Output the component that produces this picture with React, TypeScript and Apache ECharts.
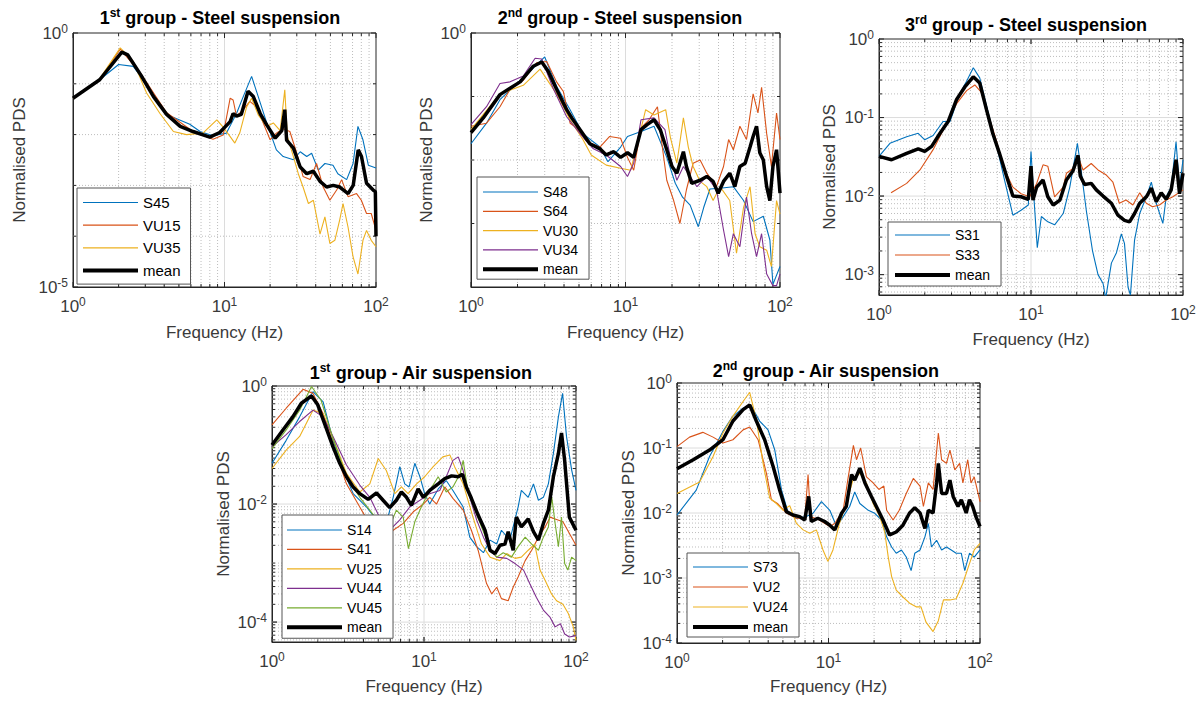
import React, { useEffect, useRef } from "react";
import * as echarts from "echarts";

type Pt = [number, number];

const FONT = '"Liberation Sans", Arial, Helvetica, sans-serif';
const AX = "#262626";
const LBL = "#3a3a3a";
const COLORS = ["#0072BD", "#D95319", "#EDB120", "#7E2F8E", "#77AC30"];
const THIN_ICON = "path://M0,6.4H55V7.6H0Z M0,0H0.01V0.01H0Z M0,13.99H0.01V14H0Z";
const THICK_ICON = "path://M0,5H55V9H0Z M0,0H0.01V0.01H0Z M0,13.99H0.01V14H0Z";

// ---------- axis tick / grid values ----------
const X_LABELS = [1, 10, 100];
const X_MAJOR_GRID = [10];
const X_MINOR_GRID = [2, 3, 4, 5, 6, 7, 8, 9, 20, 30, 40, 50, 60, 70, 80, 90];

const P1_Y_LABELS = [1e-5, 1];
const P1_Y_MAJOR: number[] = [];
const P1_Y_MINOR = [1e-4, 1e-3, 1e-2, 1e-1];

const P2_Y_LABELS = [1];
const P2_Y_MAJOR: number[] = [];
const P2_Y_MINOR = [1e-3, 1e-2, 1e-1];

const P3_Y_LABELS = [1e-3, 1e-2, 1e-1, 1];
const P3_Y_MAJOR = [1e-3, 1e-2, 1e-1];
const P3_Y_MINOR = [6e-4, 7e-4, 8e-4, 9e-4, 2e-3, 3e-3, 4e-3, 5e-3, 6e-3, 7e-3, 8e-3, 9e-3, 2e-2, 3e-2, 4e-2, 5e-2, 6e-2, 7e-2, 8e-2, 9e-2, 2e-1, 3e-1, 4e-1, 5e-1, 6e-1, 7e-1, 8e-1, 9e-1];

const P4_Y_LABELS = [1e-4, 1e-2, 1];
const P4_Y_MAJOR = [1e-4, 1e-2];
const P4_Y_MINOR = [5e-5, 6e-5, 7e-5, 8e-5, 9e-5, 2e-4, 3e-4, 4e-4, 5e-4, 6e-4, 7e-4, 8e-4, 9e-4, 1e-3, 2e-3, 3e-3, 4e-3, 5e-3, 6e-3, 7e-3, 8e-3, 9e-3, 2e-2, 3e-2, 4e-2, 5e-2, 6e-2, 7e-2, 8e-2, 9e-2, 1e-1, 2e-1, 3e-1, 4e-1, 5e-1, 6e-1, 7e-1, 8e-1, 9e-1];

const P5_Y_LABELS = [1e-4, 1e-3, 1e-2, 1e-1, 1];
const P5_Y_MAJOR = [1e-3, 1e-2, 1e-1];
const P5_Y_MINOR = [2e-4, 3e-4, 4e-4, 5e-4, 6e-4, 7e-4, 8e-4, 9e-4, 2e-3, 3e-3, 4e-3, 5e-3, 6e-3, 7e-3, 8e-3, 9e-3, 2e-2, 3e-2, 4e-2, 5e-2, 6e-2, 7e-2, 8e-2, 9e-2, 2e-1, 3e-1, 4e-1, 5e-1, 6e-1, 7e-1, 8e-1, 9e-1];

// ---------- 1st group - Steel suspension ----------
const P1_NAMES = ["S45", "VU15", "VU35"];
const P1_S45: Pt[] = [[1, 5.2e-2], [1.5, 1.2e-1], [2.0, 2.4e-1], [2.5, 2.2e-1], [2.9, 1.2e-1], [3.4, 5.8e-2], [4.15, 2.5e-2], [5.9, 1.6e-2], [6.9, 1.15e-2], [8.4, 9.5e-3], [10.3, 1.07e-2], [12.0, 2.6e-2], [13.3, 5.6e-2], [15.1, 1.4e-1], [16.7, 5.6e-2], [19, 1.7e-2], [22, 5.0e-3], [24.4, 3.7e-3], [28.5, 3.2e-3], [31.6, 4.6e-3], [34.9, 3.7e-3], [37.6, 4.3e-3], [41.6, 2.0e-3], [46, 2.7e-3], [52, 2.5e-3], [56, 1.7e-3], [64, 1.3e-3], [70.6, 2.7e-3], [76, 1.45e-2], [82, 7.9e-3], [89, 2.5e-3], [100, 2.2e-3]];
const P1_VU15: Pt[] = [[1, 5.2e-2], [1.5, 1.2e-1], [2.05, 4.8e-1], [2.8, 1.6e-1], [4.15, 2.7e-2], [6.2, 1.15e-2], [8.4, 8.1e-3], [9.8, 9.8e-3], [10.9, 5.2e-2], [11.4, 4.8e-2], [12.0, 2.3e-2], [13.3, 3.1e-2], [14.7, 4.5e-2], [16.3, 3.5e-2], [18.0, 1.7e-2], [20, 7.9e-3], [22, 1.07e-2], [24.4, 1.3e-2], [27, 1.15e-2], [30, 4.3e-3], [33, 1.5e-3], [36.7, 1.3e-3], [40.5, 2.7e-3], [44.8, 9.3e-4], [49.6, 5.1e-4], [55, 8.1e-4], [59.3, 1.3e-3], [65.4, 6.0e-4], [74.4, 6.9e-4], [80, 5.1e-4], [86.6, 2.8e-4], [93, 2.8e-4], [100, 1.3e-4]];
const P1_VU35: Pt[] = [[1, 5.2e-2], [1.5, 1.25e-1], [2.05, 5.1e-1], [2.5, 2.75e-1], [3.06, 6.6e-2], [3.75, 2.6e-2], [4.6, 1.15e-2], [5.6, 1.0e-2], [7.2, 1.07e-2], [8.9, 1.95e-2], [9.8, 1.4e-2], [10.9, 9.1e-3], [11.7, 6.8e-3], [12.6, 1.07e-2], [14, 3.5e-2], [15.1, 5.2e-2], [16.7, 2.45e-2], [19, 1.45e-2], [21, 1.7e-2], [23.3, 1.2e-2], [25, 7.6e-2], [26, 9.1e-3], [28.5, 3.7e-3], [30.7, 1.7e-3], [33, 9.3e-4], [35.8, 4.4e-4], [38.6, 5.1e-4], [42.7, 1.1e-4], [46, 2.4e-4], [49.6, 7.2e-5], [53.5, 8.3e-5], [57.6, 2.1e-4], [60.6, 4.4e-4], [65.4, 1.5e-4], [70.6, 3.9e-5], [76, 1.8e-5], [82, 8.3e-5], [86.6, 1.3e-4], [93, 8.3e-5], [100, 6.2e-5]];
const P1_MEAN: Pt[] = [[1, 5.2e-2], [1.5, 1.2e-1], [2.1, 4.2e-1], [2.3, 3.7e-1], [2.8, 1.5e-1], [3.4, 5.6e-2], [4.15, 2.5e-2], [5.1, 1.45e-2], [6.2, 1.15e-2], [8.0, 8.9e-3], [9.3, 1.1e-2], [10.9, 1.8e-2], [11.4, 2.6e-2], [12.0, 2.3e-2], [12.9, 2.5e-2], [14.3, 7.1e-2], [15.5, 5.6e-2], [17.2, 2.6e-2], [19.0, 1.55e-2], [21.6, 8.5e-3], [23.9, 1.2e-2], [25.0, 3.1e-2], [25.7, 7.8e-3], [28.5, 5.4e-3], [31.6, 2.3e-3], [34.9, 1.7e-3], [38.6, 1.9e-3], [42.7, 1.2e-3], [47.2, 9.3e-4], [52.2, 1.0e-3], [57.6, 9.3e-4], [65.4, 6.9e-4], [70.7, 1.0e-3], [76.3, 5.0e-3], [80.2, 3.7e-3], [86.6, 1.1e-3], [95.8, 8.1e-4], [99, 7.5e-4], [100, 1.0e-4]];

// ---------- 2nd group - Steel suspension ----------
const P2_NAMES = ["S48", "S64", "VU30", "VU34"];
const P2_S48: Pt[] = [[1, 1.8e-2], [1.26, 3.8e-2], [1.54, 8.9e-2], [2.08, 1.8e-1], [2.53, 2.8e-1], [3.0, 4.2e-1], [3.58, 1.45e-1], [4.38, 6.2e-2], [5.3, 2.6e-2], [6.83, 1.6e-2], [7.7, 9.4e-3], [9.3, 1.6e-2], [10.3, 2.35e-2], [12.6, 2.8e-2], [15.3, 3.4e-2], [18.5, 1.1e-2], [21, 4.3e-3], [23.4, 2.6e-3], [26.2, 1.95e-3], [29.6, 8.9e-4], [32.1, 1.8e-3], [35.2, 3.5e-3], [40.9, 3.6e-3], [49.9, 3.8e-3], [58.1, 2.3e-3], [67, 1.07e-3], [78, 1.3e-3], [86, 5.5e-4], [90, 1.1e-4], [100, 2.1e-4]];
const P2_S64: Pt[] = [[1, 3.4e-2], [1.26, 3.8e-2], [1.54, 6.9e-2], [1.79, 1.3e-1], [2.18, 1.8e-1], [2.66, 3.4e-1], [3.09, 3.55e-1], [3.58, 1.7e-1], [3.96, 1.2e-1], [4.38, 3.8e-2], [4.83, 3.2e-2], [5.6, 1.95e-2], [6.83, 1.6e-2], [7.9, 2.35e-2], [9.3, 2.2e-2], [10.3, 1.1e-2], [11.3, 6.9e-3], [12.6, 3.2e-2], [14.2, 4.3e-2], [16.1, 6.9e-2], [17.2, 1.8e-2], [18.5, 4.8e-3], [20.5, 2.3e-3], [22.5, 1.0e-3], [24.8, 3.4e-3], [27.4, 8.9e-3], [30.4, 1.0e-2], [33.6, 6.2e-3], [38.8, 3.8e-3], [43.1, 7.9e-3], [46.5, 2.1e-2], [49.9, 1.45e-2], [55, 3.4e-2], [60.7, 2.1e-2], [67, 1.1e-1], [72, 5.5e-2], [76, 1.4e-1], [82, 2.6e-2], [88, 7.9e-3], [95, 5.5e-2], [100, 2.1e-2]];
const P2_VU30: Pt[] = [[1, 3.0e-2], [1.54, 1.1e-1], [2.18, 1.5e-1], [2.8, 2.7e-1], [3.58, 1.1e-1], [4.38, 4.3e-2], [5.3, 2.1e-2], [6.0, 1.2e-2], [7.5, 8.3e-3], [9.3, 7.4e-3], [10.8, 6.9e-3], [11.8, 1.6e-2], [13.5, 6.2e-2], [15.3, 5.1e-2], [18.2, 6.2e-2], [19.5, 2.3e-2], [21.5, 8.9e-3], [23.7, 4.6e-2], [25.5, 1.6e-2], [27.4, 7.9e-3], [30.4, 4.6e-3], [33.6, 3.8e-3], [36.9, 2.3e-3], [40.9, 3.8e-3], [47.3, 2.3e-3], [52.3, 3.4e-4], [58.1, 1.8e-3], [64, 3.8e-3], [69, 6.9e-4], [74, 4.3e-4], [82, 3.8e-4], [88, 2.1e-4], [95, 2.3e-3], [100, 1.4e-3]];
const P2_VU34: Pt[] = [[1, 3.6e-2], [1.26, 6.9e-2], [1.54, 1.6e-1], [1.79, 1.7e-1], [2.18, 2.1e-1], [2.6, 4.0e-1], [2.87, 3.9e-1], [3.4, 1.35e-1], [4.16, 4.8e-2], [5.08, 2.6e-2], [6.2, 1.5e-2], [7.5, 1.2e-2], [9.3, 7.9e-3], [10.3, 5.5e-3], [11.3, 8.9e-3], [12.6, 4.3e-2], [15.3, 4.6e-2], [18, 3.0e-2], [19.5, 1.1e-2], [21.5, 4.8e-3], [23.7, 7.9e-3], [26.2, 5.5e-3], [29, 3.8e-3], [33.6, 5.5e-3], [38.8, 3.4e-3], [43.1, 7.9e-4], [46.5, 3.0e-4], [49.9, 6.9e-4], [55, 4.3e-4], [60.7, 2.6e-3], [65.5, 6.9e-4], [70.5, 3.0e-4], [76, 6.9e-4], [82, 1.6e-4], [90, 1.05e-4], [95, 1.05e-4], [100, 1.6e-4]];
const P2_MEAN: Pt[] = [[1, 2.7e-2], [1.2, 4.6e-2], [1.54, 1.07e-1], [1.79, 1.35e-1], [2.08, 1.7e-1], [2.53, 3.0e-1], [2.87, 3.5e-1], [3.16, 2.5e-1], [3.58, 1.3e-1], [4.16, 6.2e-2], [4.49, 4.6e-2], [5.08, 3.0e-2], [5.88, 1.8e-2], [6.83, 1.5e-2], [7.5, 1.2e-2], [8.4, 1.35e-2], [9.3, 1.1e-2], [10.3, 1.3e-2], [11.3, 1.1e-2], [12.6, 3.0e-2], [13.8, 3.6e-2], [15.3, 4.3e-2], [16.8, 3.0e-2], [18.5, 1.45e-2], [20, 7.9e-3], [21.5, 6.2e-3], [23.7, 1.35e-2], [24.8, 7.9e-3], [26.8, 4.3e-3], [30.4, 4.8e-3], [33.6, 5.5e-3], [36.9, 4.6e-3], [39.8, 3.0e-3], [43.1, 4.6e-3], [47.3, 6.2e-3], [51, 3.8e-3], [55, 7.9e-3], [59.5, 8.9e-3], [64, 1.6e-2], [67, 2.35e-2], [70.5, 3.4e-2], [74, 1.3e-2], [78, 1.0e-2], [82, 3.8e-3], [86, 2.3e-3], [90, 7.9e-3], [95, 1.45e-2], [100, 3.0e-3]];

// ---------- 3rd group - Steel suspension ----------
const P3_NAMES = ["S31", "S33"];
const P3_S31: Pt[] = [[1, 3.2e-2], [1.18, 4.7e-2], [1.52, 5.7e-2], [1.81, 6.3e-2], [2.0, 5.2e-2], [2.27, 5.9e-2], [2.64, 8.9e-2], [2.93, 8.9e-2], [3.41, 2.05e-1], [3.77, 2.9e-1], [4.17, 4.3e-1], [4.6, 3.2e-1], [5.1, 1.4e-1], [5.9, 4.7e-2], [6.7, 1.6e-2], [7.6, 5.7e-3], [8.6, 6.6e-3], [9.6, 7.7e-3], [10, 3.7e-2], [10.3, 1.45e-2], [11.0, 2.2e-3], [11.7, 5.5e-3], [12.9, 4.7e-3], [14.3, 4.3e-3], [16.3, 6.0e-3], [18.0, 1.3e-2], [20.2, 4.7e-2], [21.5, 1.95e-2], [23.1, 6.6e-3], [25.4, 2.0e-3], [27.6, 1.0e-3], [29.8, 7.7e-4], [31, 5.0e-4], [33.8, 1.4e-3], [36.5, 1.9e-3], [39.3, 3.3e-3], [41.2, 2.5e-3], [43.5, 6.9e-4], [45.1, 5.5e-4], [48, 2.75e-3], [51.9, 6.0e-3], [57.4, 9.8e-3], [61.9, 1.5e-2], [66.7, 8.1e-3], [73.7, 4.5e-3], [77.6, 9.8e-3], [83.6, 1.3e-2], [90, 4.9e-2], [94.9, 1.3e-2], [100, 2.9e-2]];
const P3_S33: Pt[] = [[1.2, 1.1e-2], [1.52, 1.45e-2], [1.86, 2.15e-2], [2.27, 3.9e-2], [2.64, 6.9e-2], [3.24, 1.5e-1], [3.77, 2.2e-1], [4.27, 2.6e-1], [4.7, 2.1e-1], [5.2, 1.14e-1], [5.9, 5.2e-2], [6.7, 2.15e-2], [7.6, 1.3e-2], [8.6, 1.07e-2], [9.8, 9.8e-3], [10.9, 1.45e-2], [12.0, 2.5e-2], [12.9, 2.4e-2], [14.3, 9.8e-3], [16.3, 1.3e-2], [17.1, 1.95e-2], [18.9, 2.25e-2], [20.4, 3.2e-2], [22, 2.15e-2], [24.9, 2.6e-2], [27.6, 2.15e-2], [31.3, 1.85e-2], [34.6, 1.5e-2], [38.1, 8.1e-3], [42.2, 8.9e-3], [46.8, 7.7e-3], [51.9, 1.1e-2], [57.4, 8.1e-3], [63, 7.3e-3], [70, 7.7e-3], [77.6, 8.9e-3], [85.8, 9.8e-3], [100, 1.2e-2]];
const P3_MEAN: Pt[] = [[1, 3.2e-2], [1.21, 2.9e-2], [1.52, 3.5e-2], [1.81, 4.0e-2], [2.0, 3.7e-2], [2.22, 4.3e-2], [2.52, 6.3e-2], [2.85, 8.9e-2], [3.24, 1.7e-1], [3.67, 2.45e-1], [4.17, 3.3e-1], [4.6, 2.75e-1], [5.1, 1.25e-1], [5.6, 6.3e-2], [6.2, 3.5e-2], [6.9, 1.8e-2], [7.6, 1.0e-2], [8.6, 9.8e-3], [9.6, 9.1e-3], [10, 2.4e-2], [10.3, 8.9e-3], [10.9, 1.3e-2], [12.0, 1.6e-2], [12.9, 9.8e-3], [14.0, 7.7e-3], [15.5, 8.9e-3], [17.1, 1.6e-2], [18.9, 2.1e-2], [20.4, 3.3e-2], [21.1, 1.8e-2], [22.5, 1.4e-2], [24.9, 1.45e-2], [26.9, 1.2e-2], [29.8, 1.0e-2], [33.8, 8.1e-3], [37.3, 5.7e-3], [41.2, 4.9e-3], [44.5, 4.7e-3], [48.0, 6.0e-3], [51.9, 8.1e-3], [57.4, 9.8e-3], [61.9, 1.26e-2], [66.7, 8.5e-3], [71.9, 1.1e-2], [77.6, 9.1e-3], [83.6, 1.2e-2], [90, 2.9e-2], [94.9, 1.07e-2], [100, 1.95e-2]];

// ---------- 1st group - Air suspension ----------
const P4_NAMES = ["S14", "S41", "VU25", "VU44", "VU45"];
const P4_S14: Pt[] = [[1, 4.9e-2], [1.24, 1.2e-1], [1.52, 3.0e-1], [1.86, 8.0e-1], [2.17, 5.4e-1], [2.52, 1.2e-1], [2.93, 3.8e-2], [3.42, 1.5e-2], [4.19, 8.9e-3], [4.87, 5.4e-3], [5.65, 4.7e-3], [6.27, 1.3e-2], [6.93, 4.3e-2], [7.47, 2.2e-2], [7.98, 1.95e-2], [8.7, 4.9e-2], [9.4, 2.9e-2], [10.1, 1.5e-2], [10.9, 1.0e-2], [12.4, 1.8e-2], [14, 2.5e-2], [15.5, 1.7e-2], [18.1, 8.9e-3], [20, 2.75e-3], [22.2, 1.9e-3], [24.6, 1.5e-3], [27.2, 2.45e-3], [30.1, 2.1e-3], [32.3, 3.6e-3], [36.7, 2.45e-3], [41.6, 8.9e-3], [43.7, 1.7e-2], [48.5, 1.3e-2], [52.5, 2.2e-2], [56.6, 1.16e-2], [61, 1.3e-2], [65.8, 2.2e-2], [71, 7.2e-2], [76.6, 3.0e-1], [81.6, 7.5e-1], [86.6, 1.4e-1], [93.6, 3.8e-2], [100, 1.7e-2]];
const P4_S41: Pt[] = [[1, 2.2e-1], [1.24, 4.2e-1], [1.6, 8.8e-1], [1.86, 7.5e-1], [2.17, 3.4e-1], [2.52, 1.06e-1], [3.09, 2.2e-2], [3.78, 8.9e-3], [4.63, 3.6e-3], [5.38, 2.1e-3], [6.27, 3.6e-3], [7.3, 4.7e-3], [8.5, 7.4e-3], [9.9, 1.0e-2], [10.9, 1.3e-2], [12.1, 1.0e-2], [13.7, 1.95e-2], [15.5, 1.25e-2], [18.1, 7.9e-3], [20.5, 3.6e-3], [22.7, 1.65e-3], [25.8, 4.5e-4], [27.9, 3.0e-4], [30.1, 3.9e-4], [32.3, 2.5e-4], [35.8, 2.3e-4], [38.6, 3.9e-4], [41.6, 5.8e-4], [46.3, 1.1e-3], [51.1, 1.65e-3], [56.6, 2.75e-3], [62.6, 4.1e-3], [67.6, 6.0e-3], [72.9, 5.6e-3], [82, 5.0e-3], [100, 2.0e-3]];
const P4_VU25: Pt[] = [[1, 4.0e-2], [1.24, 8.2e-2], [1.52, 1.4e-1], [1.86, 3.9e-1], [2.17, 3.4e-1], [2.52, 1.3e-1], [3.09, 3.3e-2], [3.78, 1.6e-2], [4.4, 2.2e-2], [5.0, 5.9e-2], [5.65, 3.7e-2], [6.43, 1.5e-2], [7.1, 1.95e-2], [7.86, 1.5e-2], [8.94, 2.2e-2], [10.1, 2.9e-2], [11.5, 4.3e-2], [13.3, 6.3e-2], [14.8, 6.8e-2], [15.9, 4.3e-2], [18.1, 2.2e-2], [21, 6.0e-3], [23.9, 2.1e-3], [27.2, 1.26e-3], [31.6, 1.1e-3], [35, 1.45e-3], [39.7, 1.2e-3], [43.7, 1.26e-3], [48.5, 1.65e-3], [53.5, 2.1e-3], [58, 7.6e-4], [62.6, 5.1e-4], [69, 3.0e-4], [74.5, 2.3e-4], [82, 2.0e-4], [89, 1.4e-4], [96, 8.3e-5], [100, 4.9e-5]];
const P4_VU44: Pt[] = [[1, 9.3e-2], [1.24, 1.5e-1], [1.52, 2.5e-1], [1.86, 3.9e-1], [2.17, 3.0e-1], [2.52, 1.4e-1], [3.09, 4.6e-2], [3.78, 2.1e-2], [4.4, 1.3e-2], [5.1, 6.0e-3], [5.95, 3.6e-3], [6.93, 5.4e-3], [8.06, 8.9e-3], [9.4, 1.16e-2], [10.9, 1.5e-2], [12.7, 1.7e-2], [14.3, 3.3e-2], [15.5, 5.5e-2], [16.8, 6.3e-2], [18.1, 3.7e-2], [20, 1.3e-2], [22.2, 5.4e-3], [24.6, 2.75e-3], [27.2, 1.65e-3], [30.1, 1.26e-3], [35, 1.2e-3], [39.7, 9.8e-4], [45.2, 7.6e-4], [49.6, 4.5e-4], [54.9, 2.6e-4], [61, 1.6e-4], [67.6, 1.2e-4], [72.9, 8.3e-5], [79, 9.4e-5], [84.2, 6.3e-5], [90.4, 5.6e-5], [100, 5.9e-5]];
const P4_VU45: Pt[] = [[1, 8.7e-2], [1.24, 1.8e-1], [1.52, 3.9e-1], [1.82, 9.8e-1], [2.1, 5.8e-1], [2.52, 1.3e-1], [3.09, 2.9e-2], [3.78, 1.3e-2], [4.4, 7.9e-3], [5.1, 4.7e-3], [5.8, 3.6e-3], [6.58, 7.9e-3], [7.3, 6.0e-3], [7.9, 1.75e-3], [8.7, 5.0e-3], [9.6, 8.9e-3], [10.9, 1.7e-2], [12.4, 2.9e-2], [14, 1.6e-2], [15.5, 1.95e-2], [17.3, 3.3e-2], [18.1, 5.5e-2], [19.4, 1.7e-2], [21.6, 7.9e-3], [23.9, 4.1e-3], [27.2, 1.75e-3], [30.1, 1.26e-3], [33.2, 1.5e-3], [37.6, 1.26e-3], [41.6, 1.9e-3], [46.3, 2.75e-3], [51.1, 2.1e-3], [56.6, 1.65e-3], [61, 2.75e-3], [65.8, 4.1e-3], [69.3, 1.3e-2], [72.9, 4.7e-3], [76.6, 1.9e-3], [80.3, 6.0e-3], [84.2, 9.8e-4], [88.4, 7.6e-4], [93.6, 1.26e-3], [100, 1.1e-3]];
const P4_MEAN: Pt[] = [[1, 1.0e-1], [1.18, 1.8e-1], [1.37, 3.0e-1], [1.56, 5.1e-1], [1.82, 6.8e-1], [2.0, 4.8e-1], [2.28, 1.9e-1], [2.52, 9.3e-2], [2.79, 4.9e-2], [3.09, 2.9e-2], [3.42, 1.95e-2], [3.78, 1.5e-2], [4.29, 1.2e-2], [4.87, 1.55e-2], [5.38, 1.16e-2], [5.95, 8.7e-3], [6.58, 1.16e-2], [7.1, 1.6e-2], [7.67, 1.3e-2], [8.26, 9.5e-3], [9.15, 1.8e-2], [9.9, 1.3e-2], [10.9, 1.7e-2], [12.4, 2.2e-2], [13.7, 2.7e-2], [15.2, 3.0e-2], [16.8, 2.9e-2], [17.9, 3.2e-2], [19.0, 1.95e-2], [20.5, 1.25e-2], [22.7, 6.5e-3], [25.2, 3.6e-3], [27.2, 1.65e-3], [29.3, 1.45e-3], [31.6, 2.0e-3], [34.1, 2.1e-3], [35.8, 3.4e-3], [38.6, 1.65e-3], [40.5, 6.0e-3], [43.7, 4.1e-3], [48.5, 5.6e-3], [52.5, 3.4e-3], [56.6, 2.45e-3], [61.0, 4.7e-3], [65.8, 7.9e-3], [71, 2.9e-2], [76.6, 7.2e-2], [80.3, 1.6e-1], [84.2, 5.5e-2], [90.4, 6.0e-3], [100, 3.6e-3]];

// ---------- 2nd group - Air suspension ----------
const P5_NAMES = ["S73", "VU2", "VU24"];
const P5_S73: Pt[] = [[1, 9.3e-3], [1.34, 2.25e-2], [1.64, 7.4e-2], [2.01, 1.8e-1], [2.34, 3.1e-1], [2.73, 4.1e-1], [3.1, 4.4e-1], [3.51, 2.6e-1], [3.99, 1.9e-1], [4.42, 9.3e-2], [4.9, 2.25e-2], [5.42, 1.0e-2], [6.14, 8.3e-3], [7.14, 8.8e-3], [7.9, 9.9e-3], [8.98, 1.5e-2], [10.2, 1.1e-2], [11.3, 6.2e-3], [12.5, 8.8e-3], [13.8, 1.26e-2], [14.9, 2.1e-2], [16.1, 1.4e-2], [18.3, 1.1e-2], [20.2, 9.9e-3], [22.4, 7.8e-3], [24.2, 4.3e-3], [26.1, 3.0e-3], [28.0, 2.4e-3], [30.3, 2.7e-3], [32.6, 2.1e-3], [35.1, 1.3e-3], [37.1, 2.4e-3], [40.2, 2.7e-3], [43.3, 4.3e-3], [45.6, 6.9e-3], [47.8, 3.0e-3], [51.7, 3.8e-3], [55.8, 2.7e-3], [60.1, 3.0e-3], [64.6, 2.7e-3], [69.6, 2.4e-3], [75.3, 2.4e-3], [79.3, 1.3e-3], [85.2, 2.4e-3], [91.6, 2.1e-3], [100, 2.7e-3]];
const P5_VU2: Pt[] = [[1, 1.05e-1], [1.21, 1.47e-1], [1.48, 1.74e-1], [1.73, 1.47e-1], [2.01, 1.19e-1], [2.34, 1.34e-1], [2.73, 1.9e-1], [3.02, 2.1e-1], [3.43, 1.34e-1], [3.89, 4.1e-2], [4.2, 1.6e-2], [4.6, 1.4e-2], [5.27, 1.0e-2], [6.14, 8.3e-3], [6.97, 8.3e-3], [7.33, 3.9e-2], [7.6, 8.8e-3], [8.7, 7.8e-3], [10.2, 6.2e-3], [11.0, 6.9e-3], [12.5, 1.1e-2], [13.4, 3.2e-2], [14.6, 1.1e-1], [15.3, 6.6e-2], [16.3, 1.0e-1], [17.8, 3.6e-2], [19.7, 2.9e-2], [21.5, 2.3e-2], [23.2, 2.6e-2], [24.2, 1.1e-2], [26.7, 7.8e-3], [29.3, 1.1e-2], [32.6, 2.0e-2], [36.3, 3.4e-2], [40.2, 2.6e-2], [42.3, 1.26e-2], [45.6, 2.9e-2], [49.0, 2.3e-2], [53.1, 1.7e-1], [55.8, 6.6e-2], [60.1, 5.8e-2], [63.3, 9.3e-2], [68.2, 4.6e-2], [73.4, 5.8e-2], [77.1, 2.9e-2], [83.0, 6.6e-2], [87.2, 2.9e-2], [91.6, 3.6e-2], [100, 1.5e-2]];
const P5_VU24: Pt[] = [[1, 2.0e-2], [1.41, 3.0e-2], [1.73, 7.4e-2], [2.01, 1.7e-1], [2.34, 3.1e-1], [2.73, 5.2e-1], [3.02, 7.2e-1], [3.34, 2.7e-1], [3.7, 5.8e-2], [4.09, 1.7e-2], [4.53, 1.4e-2], [5.02, 1.1e-2], [5.55, 1.3e-2], [6.14, 6.9e-3], [6.8, 5.5e-3], [7.52, 4.9e-3], [8.32, 5.5e-3], [9.2, 2.7e-3], [9.9, 1.8e-3], [10.7, 2.7e-3], [11.8, 6.9e-3], [13.1, 1.4e-2], [14.5, 3.2e-2], [16.1, 4.1e-2], [17.8, 2.9e-2], [19.7, 1.4e-2], [21.8, 8.8e-3], [23.5, 5.1e-3], [24.8, 2.1e-3], [26.1, 1.05e-3], [28.0, 6.5e-4], [31.0, 5.1e-4], [34.3, 4.1e-4], [37.9, 3.6e-4], [40.8, 3.6e-4], [44.0, 2.1e-4], [49.0, 1.5e-4], [53.1, 2.2e-4], [57.4, 4.6e-4], [63.3, 4.6e-4], [69.6, 4.8e-4], [77.1, 8.3e-4], [85.2, 1.66e-3], [91.6, 2.7e-3], [100, 3.4e-3]];
const P5_MEAN: Pt[] = [[1, 4.8e-2], [1.28, 6.6e-2], [1.64, 9.3e-2], [2.01, 1.34e-1], [2.34, 2.6e-1], [2.73, 3.9e-1], [3.02, 4.6e-1], [3.34, 2.6e-1], [3.79, 1.34e-1], [4.31, 5.2e-2], [4.76, 2.26e-2], [5.27, 1.05e-2], [5.83, 9.3e-3], [6.45, 8.8e-3], [6.97, 7.8e-3], [7.4, 1.8e-2], [7.7, 7.4e-3], [8.5, 8.3e-3], [9.43, 7.4e-3], [10.2, 6.5e-3], [11.0, 5.5e-3], [12.2, 9.9e-3], [13.1, 1.26e-2], [14.2, 3.9e-2], [14.9, 3.2e-2], [16.1, 4.9e-2], [17.4, 2.9e-2], [19.2, 1.8e-2], [20.7, 1.26e-2], [22.9, 7.8e-3], [25.3, 4.6e-3], [28.0, 5.1e-3], [31.0, 6.5e-3], [34.3, 1.0e-2], [37.1, 1.2e-2], [40.2, 1.0e-2], [43.3, 5.8e-3], [45.6, 1.1e-2], [49.0, 1.0e-2], [51.7, 2.9e-2], [53.1, 5.8e-2], [55.8, 2.0e-2], [60.1, 2.0e-2], [63.3, 3.2e-2], [66.5, 1.8e-2], [71.6, 1.26e-2], [75.3, 1.6e-2], [81.1, 1.0e-2], [85.2, 1.6e-2], [89.5, 1.26e-2], [94, 8.8e-3], [100, 6.2e-3]];

// ---------- panel layout / style ----------
type Panel = {
  title: string; tx: number; ty: number;
  rect: [number, number, number, number];
  yMin: number; yLabels: number[]; yMajor: number[]; yMinor: number[];
  names: string[]; data: Pt[][]; mean: Pt[];
  xGap: number; yGap: number;
  lg: { left: number; top: number; gap: number; pad: number[]; font: number };
};

const PANELS: Panel[] = [
  { title: "1{sup|st} group - Steel suspension", tx: 220, ty: 18, rect: [73, 33, 303, 254], yMin: 1e-5, yLabels: P1_Y_LABELS, yMajor: P1_Y_MAJOR, yMinor: P1_Y_MINOR, names: P1_NAMES, data: [P1_S45, P1_VU15, P1_VU35], mean: P1_MEAN, xGap: 37, yGap: 45, lg: { left: 77, top: 188, gap: 7.7, pad: [7, 10, 6, 6], font: 15 } },
  { title: "2{sup|nd} group - Steel suspension", tx: 620, ty: 18, rect: [471, 33, 309, 254], yMin: 1e-4, yLabels: P2_Y_LABELS, yMajor: P2_Y_MAJOR, yMinor: P2_Y_MINOR, names: P2_NAMES, data: [P2_S48, P2_S64, P2_VU30, P2_VU34], mean: P2_MEAN, xGap: 37, yGap: 36, lg: { left: 477, top: 177, gap: 5.3, pad: [8, 11, 3, 6], font: 14 } },
  { title: "3{sup|rd} group - Steel suspension", tx: 1026, ty: 25, rect: [879, 39, 304, 256], yMin: 5.5e-4, yLabels: P3_Y_LABELS, yMajor: P3_Y_MAJOR, yMinor: P3_Y_MINOR, names: P3_NAMES, data: [P3_S31, P3_S33], mean: P3_MEAN, xGap: 36, yGap: 41, lg: { left: 888, top: 222, gap: 6, pad: [6, 11, 4, 7], font: 14 } },
  { title: "1{sup|st} group - Air suspension", tx: 421, ty: 373, rect: [272, 386, 304, 256], yMin: 4.6e-5, yLabels: P4_Y_LABELS, yMajor: P4_Y_MAJOR, yMinor: P4_Y_MINOR, names: P4_NAMES, data: [P4_S14, P4_S41, P4_VU25, P4_VU44, P4_VU45], mean: P4_MEAN, xGap: 36, yGap: 40, lg: { left: 282, top: 515, gap: 5.45, pad: [8, 11, 4, 5], font: 14 } },
  { title: "2{sup|nd} group - Air suspension", tx: 826, ty: 371, rect: [677, 383, 303, 260], yMin: 1e-4, yLabels: P5_Y_LABELS, yMajor: P5_Y_MAJOR, yMinor: P5_Y_MINOR, names: P5_NAMES, data: [P5_S73, P5_VU2, P5_VU24], mean: P5_MEAN, xGap: 35, yGap: 40, lg: { left: 687, top: 553, gap: 6, pad: [7, 11, 3, 6], font: 14 } },
];

const TICK_FONT = 17;
const powLabel = (v: number) => "{b|10}{sup|" + Math.round(Math.log10(v)) + "}";
const tickRich = {
  b: { fontSize: TICK_FONT, fontFamily: FONT, color: LBL, lineHeight: 20 },
  sup: { fontSize: 12, fontFamily: FONT, color: LBL, verticalAlign: "top", lineHeight: 9 },
};

function buildOption() {
  const grid: any[] = [];
  const xAxis: any[] = [];
  const yAxis: any[] = [];
  const series: any[] = [];
  const legend: any[] = [];
  const title: any[] = [];

  PANELS.forEach((p, i) => {
    grid.push({ left: p.rect[0], top: p.rect[1], width: p.rect[2], height: p.rect[3], show: true, borderColor: AX, borderWidth: 1, backgroundColor: "#fff", containLabel: false });
    xAxis.push({
      type: "log", logBase: 10, gridIndex: i, min: 1, max: 100,
      name: "Frequency (Hz)", nameLocation: "middle", nameGap: p.xGap,
      nameTextStyle: { fontSize: 17, color: LBL, fontFamily: FONT },
      axisLine: { show: true, lineStyle: { color: AX, width: 1 } },
      axisTick: { show: false },
      axisLabel: { customValues: X_LABELS, formatter: powLabel, rich: tickRich, margin: 9, color: LBL, fontSize: TICK_FONT, fontFamily: FONT },
      splitLine: { show: false }, minorTick: { show: false },
    });
    yAxis.push({
      type: "log", logBase: 10, gridIndex: i, min: p.yMin, max: 1,
      name: "Normalised PDS", nameLocation: "middle", nameGap: p.yGap,
      nameTextStyle: { fontSize: 17, color: LBL, fontFamily: FONT },
      axisLine: { show: true, lineStyle: { color: AX, width: 1 } },
      axisTick: { show: false },
      axisLabel: { customValues: p.yLabels, formatter: powLabel, rich: tickRich, margin: 5, color: LBL, fontSize: TICK_FONT, fontFamily: FONT },
      splitLine: { show: false }, minorTick: { show: false },
    });
    // [x, y, orientation (0 vertical / 1 horizontal), level (0 major grid, 1 minor grid, 2 tick only)]
    const gridData = [
      ...X_LABELS.map((v) => [v, 1, 0, 2]),
      ...X_MAJOR_GRID.map((v) => [v, 1, 0, 0]),
      ...X_MINOR_GRID.map((v) => [v, 1, 0, 1]),
      ...p.yLabels.map((v) => [1, v, 1, 2]),
      ...p.yMajor.map((v) => [1, v, 1, 0]),
      ...p.yMinor.map((v) => [1, v, 1, 1]),
    ];
    series.push({
      type: "custom", name: "grid" + i, xAxisIndex: i, yAxisIndex: i, silent: true, z: 1,
      color: "#dcdcdc",
      data: gridData,
      encode: { x: 0, y: 1 },
      renderItem: (params: any, api: any) => {
        const cs = params.coordSys;
        const pt = api.coord([api.value(0), api.value(1)]);
        const vertical = api.value(2) === 0;
        const level = api.value(3);
        const tl = level === 1 ? 3 : 5;
        const children: any[] = [];
        if (level !== 2) {
          children.push({
            type: "line",
            shape: vertical
              ? { x1: pt[0], y1: cs.y, x2: pt[0], y2: cs.y + cs.height }
              : { x1: cs.x, y1: pt[1], x2: cs.x + cs.width, y2: pt[1] },
            style: level === 0
              ? { stroke: "#dcdcdc", lineWidth: 1 }
              : { stroke: "#bdbdbd", lineWidth: 1, lineDash: [1, 2] },
          });
        }
        const tickStyle = { stroke: AX, lineWidth: 1 };
        if (vertical) {
          children.push({ type: "line", shape: { x1: pt[0], y1: cs.y + cs.height, x2: pt[0], y2: cs.y + cs.height - tl }, style: tickStyle });
          children.push({ type: "line", shape: { x1: pt[0], y1: cs.y, x2: pt[0], y2: cs.y + tl }, style: tickStyle });
        } else {
          children.push({ type: "line", shape: { x1: cs.x, y1: pt[1], x2: cs.x + tl, y2: pt[1] }, style: tickStyle });
          children.push({ type: "line", shape: { x1: cs.x + cs.width, y1: pt[1], x2: cs.x + cs.width - tl, y2: pt[1] }, style: tickStyle });
        }
        return { type: "group", silent: true, children };
      },
    });
    p.names.forEach((name, k) => {
      series.push({
        type: "line", name, xAxisIndex: i, yAxisIndex: i, data: p.data[k],
        symbol: "none", showSymbol: false, silent: true, z: 3,
        color: COLORS[k], lineStyle: { color: COLORS[k], width: 1.1 }, itemStyle: { color: COLORS[k] },
      });
    });
    series.push({
      type: "line", name: "mean", xAxisIndex: i, yAxisIndex: i, data: p.mean,
      symbol: "none", showSymbol: false, silent: true, z: 4,
      color: "#000", lineStyle: { color: "#000", width: 3.5 }, itemStyle: { color: "#000" },
    });
    const sel: Record<string, boolean> = { mean: true };
    p.names.forEach((n) => { sel[n] = true; });
    legend.push({
      orient: "vertical", left: p.lg.left, top: p.lg.top,
      data: [
        ...p.names.map((n, k) => ({ name: n, icon: THIN_ICON, itemStyle: { color: COLORS[k], borderWidth: 0 } })),
        { name: "mean", icon: THICK_ICON, itemStyle: { color: "#000", borderWidth: 0 } },
      ],
      selected: sel,
      itemWidth: 55, itemHeight: 14, itemGap: p.lg.gap, padding: p.lg.pad,
      borderColor: "#555", borderWidth: 1, backgroundColor: "#fff", selectedMode: false, z: 10,
      textStyle: { fontSize: p.lg.font, color: "#000", fontFamily: FONT, lineHeight: 14 },
    });
    title.push({
      text: p.title, left: p.tx, top: p.ty - 11, textAlign: "center", padding: 0,
      textStyle: {
        fontSize: 18, fontWeight: "bold", color: "#000", fontFamily: FONT, lineHeight: 22,
        rich: { sup: { fontSize: 12, fontWeight: "bold", color: "#000", fontFamily: FONT, verticalAlign: "top", lineHeight: 10 } },
      },
    });
  });

  return {
    animation: false,
    backgroundColor: "#fff",
    textStyle: { fontFamily: FONT },
    title, grid, xAxis, yAxis, series, legend,
  };
}

export default function App() {
  const ref = useRef<HTMLDivElement>(null);
  useEffect(() => {
    if (!ref.current) return;
    const chart = echarts.init(ref.current, undefined, { renderer: "svg" });
    chart.setOption(buildOption() as any);
    return () => chart.dispose();
  }, []);
  return <div ref={ref} style={{ position: "absolute", left: 0, top: 0, width: 1203, height: 701 }} />;
}
